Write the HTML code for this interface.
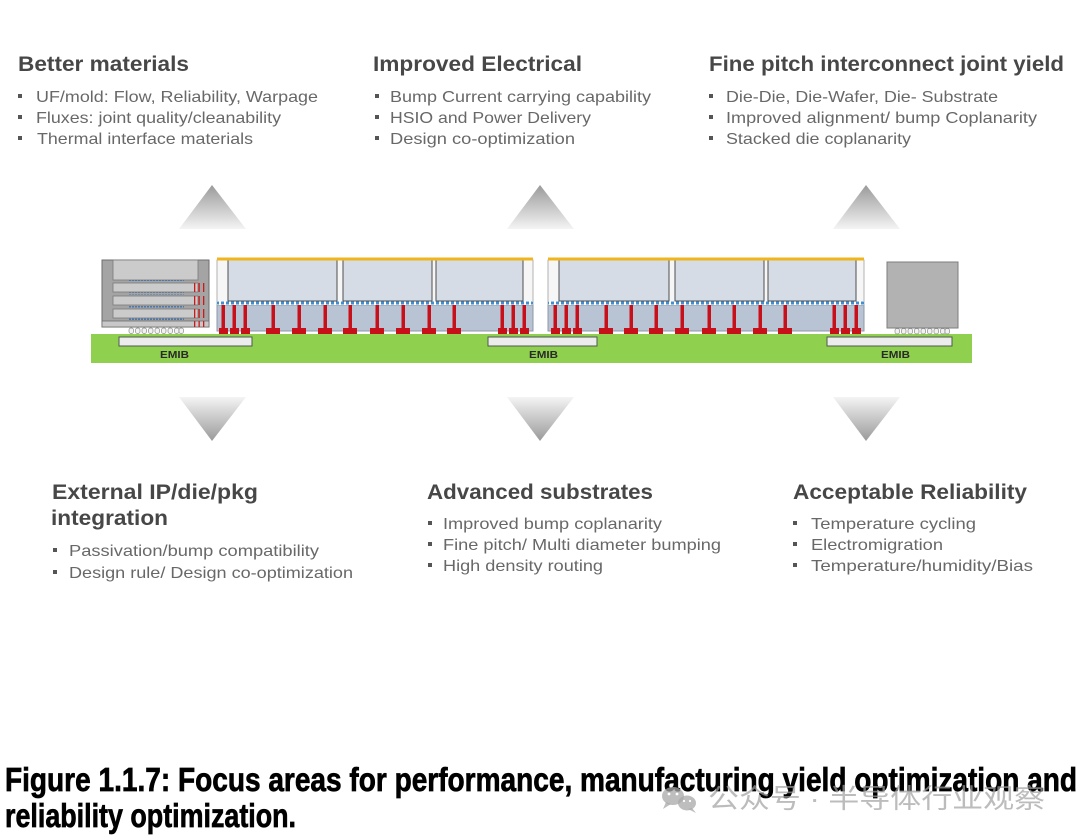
<!DOCTYPE html>
<html>
<head>
<meta charset="utf-8">
<style>
  html,body{margin:0;padding:0;background:#fff;}
  body{width:1080px;height:840px;overflow:hidden;}
  svg{display:block;}
  .h{font-family:"Liberation Sans",sans-serif;font-weight:bold;fill:#474747;font-size:21px;}
  .b{font-family:"Liberation Sans",sans-serif;fill:#686868;font-size:16px;}
  .cap{font-family:"Liberation Sans Narrow","Liberation Sans",sans-serif;font-weight:bold;fill:#000;stroke:#000;stroke-width:0.7px;font-size:33px;}
  .emib{font-family:"Liberation Sans",sans-serif;font-weight:bold;fill:#2a2a2a;font-size:10px;}
  .wm{font-family:"Liberation Sans","Noto Sans CJK SC",sans-serif;fill:#a0a0a0;fill-opacity:0.7;font-size:27px;}
</style>
</head>
<body>
<svg width="1080" height="840" viewBox="0 0 1080 840" xmlns="http://www.w3.org/2000/svg">
  <defs>
    <linearGradient id="up" x1="0" y1="0" x2="0" y2="1">
      <stop offset="0" stop-color="#9a9a9a"/>
      <stop offset="1" stop-color="#f4f4f4"/>
    </linearGradient>
    <linearGradient id="dn" x1="0" y1="0" x2="0" y2="1">
      <stop offset="0" stop-color="#f4f4f4"/>
      <stop offset="1" stop-color="#9a9a9a"/>
    </linearGradient>
    <pattern id="ubump" x="0" y="301" width="5" height="4" patternUnits="userSpaceOnUse">
      <rect x="0" y="0" width="5" height="4" fill="#ffffff"/>
      <rect x="1" y="0.5" width="3" height="3" fill="#3f8fd4"/>
    </pattern>
    <pattern id="hbmb" x="0" y="0" width="3" height="3" patternUnits="userSpaceOnUse">
      <rect x="0" y="0" width="2" height="2" fill="#4a78b0"/>
    </pattern>
  </defs>

  <!-- ===== Top text blocks ===== -->
  <text class="h" x="18" y="71" textLength="171" lengthAdjust="spacingAndGlyphs">Better materials</text>
  <rect x="18" y="94" width="4" height="4" fill="#555"/>
  <rect x="18" y="115" width="4" height="4" fill="#555"/>
  <rect x="18" y="136" width="4" height="4" fill="#555"/>
  <text class="b" x="36" y="102" textLength="282" lengthAdjust="spacingAndGlyphs">UF/mold: Flow, Reliability, Warpage</text>
  <text class="b" x="36" y="123" textLength="245" lengthAdjust="spacingAndGlyphs">Fluxes: joint quality/cleanability</text>
  <text class="b" x="37" y="144" textLength="216" lengthAdjust="spacingAndGlyphs">Thermal interface materials</text>

  <text class="h" x="373" y="71" textLength="209" lengthAdjust="spacingAndGlyphs">Improved Electrical</text>
  <rect x="375" y="94" width="4" height="4" fill="#555"/>
  <rect x="375" y="115" width="4" height="4" fill="#555"/>
  <rect x="375" y="136" width="4" height="4" fill="#555"/>
  <text class="b" x="390" y="102" textLength="261" lengthAdjust="spacingAndGlyphs">Bump Current carrying capability</text>
  <text class="b" x="390" y="123" textLength="201" lengthAdjust="spacingAndGlyphs">HSIO and Power Delivery</text>
  <text class="b" x="390" y="144" textLength="185" lengthAdjust="spacingAndGlyphs">Design co-optimization</text>

  <text class="h" x="709" y="71" textLength="355" lengthAdjust="spacingAndGlyphs">Fine pitch interconnect joint yield</text>
  <rect x="709" y="94" width="4" height="4" fill="#555"/>
  <rect x="709" y="115" width="4" height="4" fill="#555"/>
  <rect x="709" y="136" width="4" height="4" fill="#555"/>
  <text class="b" x="726" y="102" textLength="272" lengthAdjust="spacingAndGlyphs">Die-Die, Die-Wafer, Die- Substrate</text>
  <text class="b" x="726" y="123" textLength="311" lengthAdjust="spacingAndGlyphs">Improved alignment/ bump Coplanarity</text>
  <text class="b" x="726" y="144" textLength="185" lengthAdjust="spacingAndGlyphs">Stacked die coplanarity</text>

  <!-- ===== Arrows ===== -->
  <polygon points="212,185 246,229 179,229" fill="url(#up)"/>
  <polygon points="540,185 574,229 507,229" fill="url(#up)"/>
  <polygon points="866,185 900,229 833,229" fill="url(#up)"/>
  <polygon points="179,397 246,397 212,441" fill="url(#dn)"/>
  <polygon points="507,397 574,397 540,441" fill="url(#dn)"/>
  <polygon points="833,397 900,397 866,441" fill="url(#dn)"/>

  <!-- ===== Package cross-section ===== -->
  <rect x="91" y="334" width="881" height="29" fill="#8fd14f"/>

  <rect x="119" y="337" width="133" height="9" fill="#ececec" stroke="#4d5a4d" stroke-width="1"/>
  <rect x="488" y="337" width="109" height="9" fill="#ececec" stroke="#4d5a4d" stroke-width="1"/>
  <rect x="827" y="337" width="125" height="9" fill="#ececec" stroke="#4d5a4d" stroke-width="1"/>
  <text class="emib" x="160" y="358" textLength="29" lengthAdjust="spacingAndGlyphs">EMIB</text>
  <text class="emib" x="529" y="358" textLength="29" lengthAdjust="spacingAndGlyphs">EMIB</text>
  <text class="emib" x="881" y="358" textLength="29" lengthAdjust="spacingAndGlyphs">EMIB</text>

  <!-- Left HBM stack -->
  <rect x="102" y="260" width="107" height="67" fill="#a4a4a4" stroke="#6e6e6e" stroke-width="1"/>
  <rect x="113" y="260" width="85" height="20" fill="#cbcbcb" stroke="#7a7a7a" stroke-width="0.8"/>
  <rect x="113" y="283" width="85" height="9" fill="#cbcbcb" stroke="#7a7a7a" stroke-width="0.8"/>
  <rect x="113" y="296" width="85" height="9" fill="#cbcbcb" stroke="#7a7a7a" stroke-width="0.8"/>
  <rect x="113" y="309" width="85" height="9" fill="#cbcbcb" stroke="#7a7a7a" stroke-width="0.8"/>
  <rect x="102" y="321" width="107" height="6" fill="#c8c8c8" stroke="#6e6e6e" stroke-width="0.8"/>
  <rect x="128" y="280" width="56" height="2" fill="url(#hbmb)"/>
  <rect x="128" y="292.5" width="56" height="2" fill="url(#hbmb)"/>
  <rect x="128" y="305.5" width="56" height="2" fill="url(#hbmb)"/>
  <rect x="128" y="318.5" width="56" height="2" fill="url(#hbmb)"/>
  <g fill="#d01818">
    <rect x="194" y="283" width="1.3" height="9"/><rect x="198.5" y="283" width="1.3" height="9"/><rect x="203" y="283" width="1.3" height="9"/>
    <rect x="194" y="296" width="1.3" height="9"/><rect x="198.5" y="296" width="1.3" height="9"/><rect x="203" y="296" width="1.3" height="9"/>
    <rect x="194" y="309" width="1.3" height="9"/><rect x="198.5" y="309" width="1.3" height="9"/><rect x="203" y="309" width="1.3" height="9"/>
    <rect x="194" y="321" width="1.3" height="6"/><rect x="198.5" y="321" width="1.3" height="6"/><rect x="203" y="321" width="1.3" height="6"/>
  </g>
  <g fill="#f2f2f2" stroke="#8a8a8a" stroke-width="0.7">
    <rect x="129" y="328" width="4.5" height="5.5" rx="2"/>
    <rect x="135.5" y="328" width="4.5" height="5.5" rx="2"/>
    <rect x="142" y="328" width="4.5" height="5.5" rx="2"/>
    <rect x="148.5" y="328" width="4.5" height="5.5" rx="2"/>
    <rect x="155" y="328" width="4.5" height="5.5" rx="2"/>
    <rect x="161.5" y="328" width="4.5" height="5.5" rx="2"/>
    <rect x="168" y="328" width="4.5" height="5.5" rx="2"/>
    <rect x="174.5" y="328" width="4.5" height="5.5" rx="2"/>
    <rect x="179" y="328" width="4.5" height="5.5" rx="2"/>
  </g>

  <!-- Left main assembly -->
  <rect x="217" y="305" width="316" height="26" fill="#b8c3d4" stroke="#8d97a8" stroke-width="1"/>
  <rect x="217" y="260" width="316" height="45" fill="#f6f6f6" stroke="#a0a0a0" stroke-width="0.8"/>
  <rect x="217" y="301" width="316" height="4" fill="url(#ubump)"/>
  <rect x="228" y="259" width="109" height="42" fill="#d6dce5" stroke="#4f4f4f" stroke-width="1"/>
  <rect x="343" y="259" width="89" height="42" fill="#d6dce5" stroke="#4f4f4f" stroke-width="1"/>
  <rect x="436" y="259" width="87" height="42" fill="#d6dce5" stroke="#4f4f4f" stroke-width="1"/>
  <rect x="217" y="257.5" width="316" height="3" fill="#f0b41c"/>
  <g fill="#c8101a">
    <rect x="221.5" y="305" width="3.5" height="24"/><rect x="232.5" y="305" width="3.5" height="24"/><rect x="243.5" y="305" width="3.5" height="24"/>
    <rect x="271.5" y="305" width="3.5" height="24"/><rect x="297.5" y="305" width="3.5" height="24"/><rect x="323.5" y="305" width="3.5" height="24"/>
    <rect x="348.5" y="305" width="3.5" height="24"/><rect x="375.5" y="305" width="3.5" height="24"/><rect x="401.5" y="305" width="3.5" height="24"/>
    <rect x="427.5" y="305" width="3.5" height="24"/><rect x="452.5" y="305" width="3.5" height="24"/>
    <rect x="500.5" y="305" width="3.5" height="24"/><rect x="511.5" y="305" width="3.5" height="24"/><rect x="522.5" y="305" width="3.5" height="24"/>
    <rect x="219" y="328" width="9" height="6"/><rect x="230" y="328" width="9" height="6"/><rect x="241" y="328" width="9" height="6"/>
    <rect x="266" y="328" width="14" height="6"/><rect x="292" y="328" width="14" height="6"/><rect x="318" y="328" width="14" height="6"/>
    <rect x="343" y="328" width="14" height="6"/><rect x="370" y="328" width="14" height="6"/><rect x="396" y="328" width="14" height="6"/>
    <rect x="422" y="328" width="14" height="6"/><rect x="447" y="328" width="14" height="6"/>
    <rect x="498" y="328" width="9" height="6"/><rect x="509" y="328" width="9" height="6"/><rect x="520" y="328" width="9" height="6"/>
  </g>

  <!-- Right main assembly -->
  <rect x="548" y="305" width="316" height="26" fill="#b8c3d4" stroke="#8d97a8" stroke-width="1"/>
  <rect x="548" y="260" width="316" height="45" fill="#f6f6f6" stroke="#a0a0a0" stroke-width="0.8"/>
  <rect x="548" y="301" width="316" height="4" fill="url(#ubump)"/>
  <rect x="559" y="259" width="110" height="42" fill="#d6dce5" stroke="#4f4f4f" stroke-width="1"/>
  <rect x="675" y="259" width="89" height="42" fill="#d6dce5" stroke="#4f4f4f" stroke-width="1"/>
  <rect x="768" y="259" width="88" height="42" fill="#d6dce5" stroke="#4f4f4f" stroke-width="1"/>
  <rect x="548" y="257.5" width="316" height="3" fill="#f0b41c"/>
  <g fill="#c8101a">
    <rect x="553.5" y="305" width="3.5" height="24"/><rect x="564.5" y="305" width="3.5" height="24"/><rect x="575.5" y="305" width="3.5" height="24"/>
    <rect x="604.5" y="305" width="3.5" height="24"/><rect x="629.5" y="305" width="3.5" height="24"/><rect x="654.5" y="305" width="3.5" height="24"/>
    <rect x="680.5" y="305" width="3.5" height="24"/><rect x="707.5" y="305" width="3.5" height="24"/><rect x="732.5" y="305" width="3.5" height="24"/>
    <rect x="758.5" y="305" width="3.5" height="24"/><rect x="783.5" y="305" width="3.5" height="24"/>
    <rect x="832.5" y="305" width="3.5" height="24"/><rect x="843.5" y="305" width="3.5" height="24"/><rect x="854.5" y="305" width="3.5" height="24"/>
    <rect x="551" y="328" width="9" height="6"/><rect x="562" y="328" width="9" height="6"/><rect x="573" y="328" width="9" height="6"/>
    <rect x="599" y="328" width="14" height="6"/><rect x="624" y="328" width="14" height="6"/><rect x="649" y="328" width="14" height="6"/>
    <rect x="675" y="328" width="14" height="6"/><rect x="702" y="328" width="14" height="6"/><rect x="727" y="328" width="14" height="6"/>
    <rect x="753" y="328" width="14" height="6"/><rect x="778" y="328" width="14" height="6"/>
    <rect x="830" y="328" width="9" height="6"/><rect x="841" y="328" width="9" height="6"/><rect x="852" y="328" width="9" height="6"/>
  </g>

  <!-- Right chip -->
  <rect x="887" y="262" width="71" height="66" fill="#b2b2b2" stroke="#7d7d7d" stroke-width="1"/>
  <g fill="#f2f2f2" stroke="#8a8a8a" stroke-width="0.7">
    <rect x="895" y="328.5" width="4.5" height="5.5" rx="2"/>
    <rect x="901.5" y="328.5" width="4.5" height="5.5" rx="2"/>
    <rect x="908" y="328.5" width="4.5" height="5.5" rx="2"/>
    <rect x="914.5" y="328.5" width="4.5" height="5.5" rx="2"/>
    <rect x="921" y="328.5" width="4.5" height="5.5" rx="2"/>
    <rect x="927.5" y="328.5" width="4.5" height="5.5" rx="2"/>
    <rect x="934" y="328.5" width="4.5" height="5.5" rx="2"/>
    <rect x="940.5" y="328.5" width="4.5" height="5.5" rx="2"/>
    <rect x="945" y="328.5" width="4.5" height="5.5" rx="2"/>
  </g>

  <!-- ===== Bottom text blocks ===== -->
  <text class="h" x="52" y="499" textLength="206" lengthAdjust="spacingAndGlyphs">External IP/die/pkg</text>
  <text class="h" x="51" y="525" textLength="117" lengthAdjust="spacingAndGlyphs">integration</text>
  <rect x="53" y="548" width="4" height="4" fill="#555"/>
  <rect x="53" y="570" width="4" height="4" fill="#555"/>
  <text class="b" x="69" y="556" textLength="250" lengthAdjust="spacingAndGlyphs">Passivation/bump compatibility</text>
  <text class="b" x="69" y="578" textLength="284" lengthAdjust="spacingAndGlyphs">Design rule/ Design co-optimization</text>

  <text class="h" x="427" y="499" textLength="226" lengthAdjust="spacingAndGlyphs">Advanced substrates</text>
  <rect x="428" y="521" width="4" height="4" fill="#555"/>
  <rect x="428" y="542" width="4" height="4" fill="#555"/>
  <rect x="428" y="563" width="4" height="4" fill="#555"/>
  <text class="b" x="443" y="529" textLength="219" lengthAdjust="spacingAndGlyphs">Improved bump coplanarity</text>
  <text class="b" x="443" y="550" textLength="278" lengthAdjust="spacingAndGlyphs">Fine pitch/ Multi diameter bumping</text>
  <text class="b" x="443" y="571" textLength="160" lengthAdjust="spacingAndGlyphs">High density routing</text>

  <text class="h" x="793" y="499" textLength="234" lengthAdjust="spacingAndGlyphs">Acceptable Reliability</text>
  <rect x="793" y="521" width="4" height="4" fill="#555"/>
  <rect x="793" y="542" width="4" height="4" fill="#555"/>
  <rect x="793" y="563" width="4" height="4" fill="#555"/>
  <text class="b" x="811" y="529" textLength="165" lengthAdjust="spacingAndGlyphs">Temperature cycling</text>
  <text class="b" x="811" y="550" textLength="132" lengthAdjust="spacingAndGlyphs">Electromigration</text>
  <text class="b" x="811" y="571" textLength="222" lengthAdjust="spacingAndGlyphs">Temperature/humidity/Bias</text>

  <!-- ===== Caption ===== -->
  <text class="cap" x="5" y="791" textLength="1072" lengthAdjust="spacingAndGlyphs">Figure 1.1.7: Focus areas for performance, manufacturing yield optimization and</text>
  <text class="cap" x="5" y="827" textLength="291" lengthAdjust="spacingAndGlyphs">reliability optimization.</text>

  <!-- ===== Watermark ===== -->
  <g fill="#a8a8a8" fill-opacity="0.75">
    <ellipse cx="673" cy="796" rx="11" ry="9"/>
    <polygon points="666,802 663,809 671,804"/>
    <ellipse cx="687" cy="803" rx="9" ry="7.5"/>
    <polygon points="692,808 696,813 688,809"/>
  </g>
  <g fill="#fff">
    <circle cx="669" cy="794" r="1.4"/><circle cx="677" cy="794" r="1.4"/>
    <circle cx="684" cy="801" r="1.1"/><circle cx="690" cy="801" r="1.1"/>
  </g>
  <text class="wm" x="708" y="808" textLength="337" lengthAdjust="spacingAndGlyphs">公众号 · 半导体行业观察</text>
</svg>
</body>
</html>
